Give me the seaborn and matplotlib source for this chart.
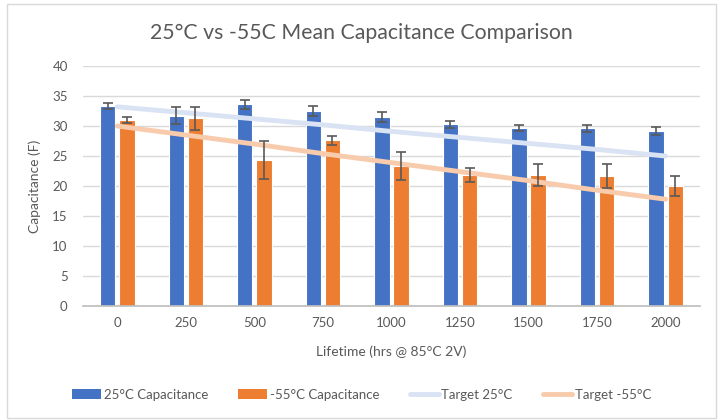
import numpy as np
import pandas as pd
import seaborn as sns
import matplotlib.pyplot as plt
from matplotlib.patches import Patch, Rectangle
from matplotlib.lines import Line2D

categories = ["0", "250", "500", "750", "1000", "1250", "1500", "1750", "2000"]
cap_25 = [33.4, 31.7, 33.6, 32.5, 31.5, 30.3, 29.7, 29.6, 29.2]
err_25 = [0.5, 1.4, 0.8, 0.8, 0.85, 0.6, 0.5, 0.65, 0.7]
cap_m55 = [31.0, 31.3, 24.3, 27.6, 23.3, 21.8, 21.8, 21.7, 20.0]
err_m55 = [0.45, 1.9, 3.2, 0.8, 2.3, 1.2, 1.8, 1.95, 1.6]
target_25 = [33.2, 32.2, 31.2, 30.2, 29.1, 28.1, 27.1, 26.1, 25.0]
target_m55 = [30.0, 28.5, 27.0, 25.4, 23.9, 22.4, 20.9, 19.3, 17.8]

series_names = ["25°C Capacitance", "-55°C Capacitance"]
blue = "#4472C4"
orange = "#ED7D31"
tblue = "#DAE3F3"
torange = "#F8CBAD"
grey_text = "#595959"

sns.set_theme(style="white")
plt.rcParams['font.family'] = ['Lato', 'DejaVu Sans']

df = pd.DataFrame({
    "Lifetime": categories * 2,
    "Capacitance": cap_25 + cap_m55,
    "Series": [series_names[0]] * len(categories) + [series_names[1]] * len(categories),
})

fig = plt.figure(figsize=(7.23, 4.2), dpi=100)
ax = fig.add_axes([0.1148, 0.2714, 0.8532, 0.5714])

sns.barplot(data=df, x="Lifetime", y="Capacitance", hue="Series",
            order=categories, hue_order=series_names,
            palette=[blue, orange], saturation=1, width=0.56, gap=0.2,
            errorbar=None, ax=ax, legend=False,
            edgecolor="white", linewidth=0.8, zorder=2)

for cont, errs in zip(ax.containers, [err_25, err_m55]):
    xs = [b.get_x() + b.get_width() / 2 for b in cont]
    hs = [b.get_height() for b in cont]
    ax.errorbar(xs, hs, yerr=errs, fmt="none", ecolor="#595959",
                elinewidth=1.2, capsize=3.5, capthick=1.2, zorder=4)

xpos = np.arange(len(categories))
sns.lineplot(x=xpos, y=target_25, color=tblue, linewidth=3.5, ax=ax, zorder=3)
sns.lineplot(x=xpos, y=target_m55, color=torange, linewidth=3.5, ax=ax, zorder=3)

ax.set_xlim(-0.5, len(categories) - 0.5)
ax.set_ylim(0, 40)
ax.set_yticks(np.arange(0, 41, 5))
ax.yaxis.grid(True, color="#D9D9D9", linewidth=1)
ax.set_axisbelow(True)
for s in ["top", "right", "left"]:
    ax.spines[s].set_visible(False)
ax.spines["bottom"].set_color("#BFBFBF")
ax.tick_params(axis="both", length=0, labelsize=9.5, colors=grey_text, pad=8)
ax.tick_params(axis="y", pad=11)
ax.set_xlabel("Lifetime (hrs @ 85°C 2V)", fontsize=10, color=grey_text, labelpad=12)
ax.set_ylabel("Capacitance (F)", fontsize=10, color=grey_text, labelpad=8)

fig.text(0.5, 0.922, "25°C vs -55C Mean Capacitance Comparison",
         ha="center", va="center", fontsize=15.3, color=grey_text)

handles = [
    Patch(facecolor=blue, edgecolor="none"),
    Patch(facecolor=orange, edgecolor="none"),
    Line2D([0], [0], color=tblue, linewidth=3.5),
    Line2D([0], [0], color=torange, linewidth=3.5),
]
labels = ["25°C Capacitance", "-55°C Capacitance", "Target 25°C", "Target -55°C"]
fig.legend(handles, labels, loc="center", bbox_to_anchor=(0.5, 0.06), ncol=4,
           frameon=False, fontsize=9.5, labelcolor=grey_text,
           handlelength=2.2, handleheight=0.8, handletextpad=0.2, columnspacing=2.3)

fig.patches.append(Rectangle((0.009, 0.005), 0.982, 0.985, transform=fig.transFigure,
                             fill=False, edgecolor="#D9D9D9", linewidth=1))

fig.savefig("out.png", dpi=100)
